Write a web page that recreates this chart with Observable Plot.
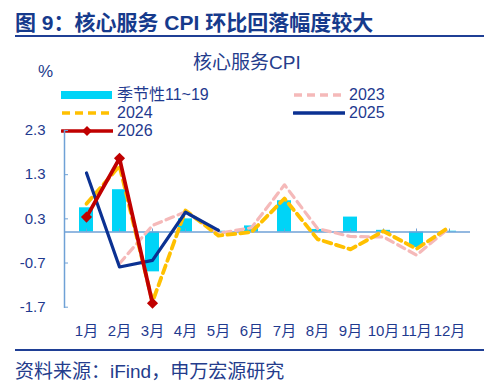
<!DOCTYPE html>
<html><head><meta charset="utf-8">
<script src="https://cdn.jsdelivr.net/npm/d3@7"></script>
<script src="https://cdn.jsdelivr.net/npm/@observablehq/plot@0.6"></script>
<style>
body{margin:0;background:#fff;}
#wrap{position:relative;width:484px;height:388px;overflow:hidden;font-family:"Liberation Sans","Noto Sans CJK SC",sans-serif;color:#1f3a8f;}
.abs{position:absolute;white-space:nowrap;line-height:1;}
#chart{position:absolute;left:0;top:120px;}
</style></head><body>
<div id="wrap">
  <div class="abs" style="left:15px;top:12px;font-size:21px;font-weight:bold;color:#163a8c">图 9：核心服务 CPI 环比回落幅度较大</div>
  <div class="abs" style="left:15px;top:35px;width:469px;height:2px;background:#1f3f95"></div>
  <div class="abs" style="left:193px;top:53px;font-size:19px;color:#243c8c">核心服务CPI</div>
  <div class="abs" style="left:38px;top:63px;font-size:17px;color:#243c8c">%</div>
  <div id="legend"></div>
  <div id="chart"></div>
  <div class="abs" style="left:15px;top:349px;width:469px;height:2px;background:#1f3f95"></div>
  <div class="abs" style="left:15px;top:362px;font-size:19px;color:#243c8c">资料来源：iFind，申万宏源研究</div>
</div>
<script>
const months = ["1月","2月","3月","4月","5月","6月","7月","8月","9月","10月","11月","12月"];
const seasonal = [0.55, 0.96, -0.90, 0.30, 0.02, 0.14, 0.71, 0.06, 0.34, 0.04, -0.35, 0.02];
const s2023 = [null, -0.71, 0.15, 0.46, -0.03, 0.10, 1.07, 0.08, -0.10, -0.11, -0.52, 0.10];
const s2024 = [0.64, 1.50, -1.58, 0.49, -0.08, 0.00, 0.76, -0.16, -0.39, 0.02, -0.38, 0.12];
const s2025 = [1.34, -0.79, -0.64, 0.45, 0.04];
const s2026 = [0.34, 1.67, -1.61];
const yTicks = [2.3, 1.3, 0.3, -0.7, -1.7];

const C = {bar:"#00d4f7", p23:"#f5b9b9", p24:"#ffc000", p25:"#0b3192", p26:"#c00000", axis:"#6fa1d6", text:"#1f3a8f"};

const toRows = (arr) => arr.map((v,i)=>({m:months[i], v})).filter(d=>d.v!==null && d.v!==undefined);

const plot = Plot.plot({
  width: 484, height: 225,
  marginTop: 10, marginBottom: 38.3, marginLeft: 64, marginRight: 14,
  style: {fontFamily: '"Liberation Sans","Noto Sans CJK SC",sans-serif', fontSize: "15px", color: C.text, background: "transparent"},
  x: {domain: months, type: "band", paddingInner: 0.59, paddingOuter: 0.295, label: null},
  y: {domain: [-1.7, 2.3], label: null},
  marks: [
    Plot.barY(toRows(seasonal), {x:"m", y:"v", fill:C.bar}),
    Plot.frame({anchor:"left", stroke:C.axis, strokeWidth:1.5}),
    Plot.ruleY([0], {stroke:C.axis, strokeWidth:1.5}),
    Plot.ruleX(months, {x:d=>d, y1:0, y2:0.07, stroke:C.axis, strokeWidth:1}),
    Plot.axisY({ticks: yTicks, tickSize: 4, dx: 4, text: null, stroke: C.axis, label: null}),
    Plot.axisY({ticks: yTicks, tickSize: 0, tickPadding: 19, tickFormat: d=>d.toFixed(1), fill: C.text, label: null}),
    Plot.axisX({anchor:"bottom", tickSize: 0, tickPadding: 18, fill: C.text, label: null}),
    Plot.line(toRows(s2023), {x:"m", y:"v", stroke:C.p23, strokeWidth:3.2, strokeDasharray:"8,5"}),
    Plot.line(toRows(s2024), {x:"m", y:"v", stroke:C.p24, strokeWidth:3.8, strokeDasharray:"8,5"}),
    Plot.line(toRows(s2025), {x:"m", y:"v", stroke:C.p25, strokeWidth:3.2}),
    Plot.line(toRows(s2026), {x:"m", y:"v", stroke:C.p26, strokeWidth:3.8}),
    Plot.dot(toRows(s2026), {x:"m", y:"v", fill:C.p26, symbol:"diamond2", r:5})
  ]
});
document.getElementById("chart").appendChild(plot);

// legend
const legendItems = [
  {label:"季节性11~19", x:61, y:95, kind:"bar", color:C.bar},
  {label:"2023", x:293, y:95, kind:"dash", color:C.p23},
  {label:"2024", x:61, y:113, kind:"dash", color:C.p24},
  {label:"2025", x:293, y:113, kind:"solid", color:C.p25},
  {label:"2026", x:61, y:131, kind:"diamond", color:C.p26}
];
const leg = document.getElementById("legend");
for (const it of legendItems) {
  const w = 52;
  let inner = "";
  if (it.kind==="bar") inner = `<rect x="0" y="5" width="${w-1}" height="8" fill="${it.color}"/>`;
  else if (it.kind==="dash") inner = `<line x1="1" x2="${w}" y1="9" y2="9" stroke="${it.color}" stroke-width="3.5" stroke-dasharray="8,5"/>`;
  else if (it.kind==="solid") inner = `<line x1="1" x2="${w}" y1="9" y2="9" stroke="${it.color}" stroke-width="3.5" stroke-linecap="round"/>`;
  else inner = `<line x1="1" x2="${w}" y1="9" y2="9" stroke="${it.color}" stroke-width="3.5" stroke-linecap="round"/><path d="M${w/2},4 L${w/2+5},9 L${w/2},14 L${w/2-5},9Z" fill="${it.color}"/>`;
  const d = document.createElement("div");
  d.className = "abs";
  d.style.left = it.x + "px";
  d.style.top = (it.y - 9) + "px";
  d.innerHTML = `<svg width="${w}" height="18" style="vertical-align:top">${inner}</svg>`;
  leg.appendChild(d);
  const t = document.createElement("div");
  t.className = "abs";
  t.style.left = (it.x + 56) + "px";
  t.style.top = (it.y - 8) + "px";
  t.style.fontSize = "16px";
  t.style.color = C.text;
  t.textContent = it.label;
  leg.appendChild(t);
}
</script>
</body></html>
